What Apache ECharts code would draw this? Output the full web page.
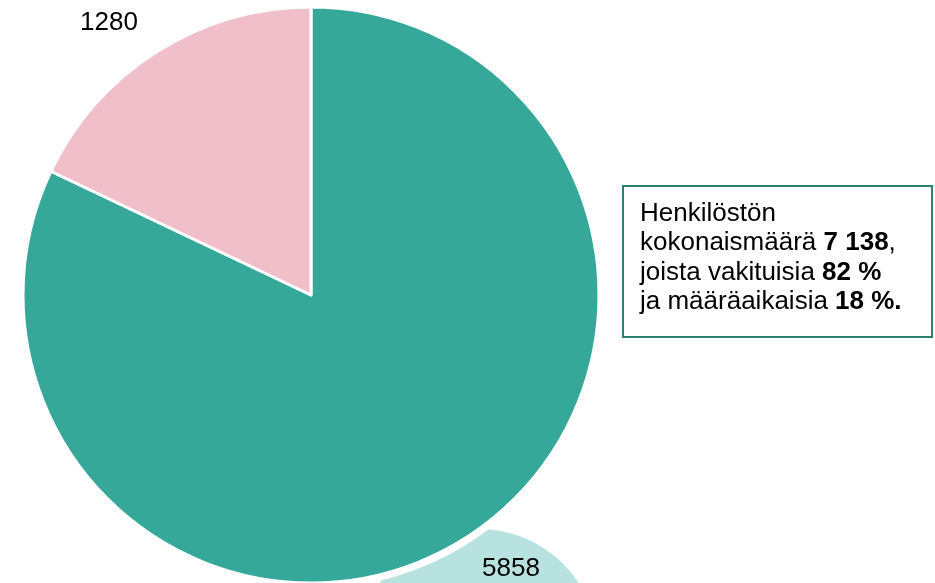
<!DOCTYPE html>
<html><head><meta charset="utf-8">
<script src="https://cdn.jsdelivr.net/npm/echarts@6/dist/echarts.min.js"></script>
<style>html,body{margin:0;padding:0;background:#fff}#c{width:935px;height:583px}</style>
</head><body><div id="c"></div>
<script>
const categories = ['Vakituiset', 'Määräaikaiset'];
const values = [5858, 1280];
const colors = ['#36a899', '#f0bfca'];
const labelPos = [[511, 569], [109, 23]];
const boxLines = [
  'Henkilöstön',
  'kokonaismäärä {b|7 138},',
  'joista vakituisia {b|82 %}',
  'ja määräaikaisia {b|18 %.}'
];
const FONT = '"Liberation Sans", Arial, sans-serif';

const chart = echarts.init(document.getElementById('c'), null, {renderer: 'canvas'});
chart.setOption({
  animation: false,
  graphic: [
    {type: 'circle', shape: {cx: 479, cy: 648, r: 119}, style: {fill: '#b8e2df'}, z: -20},
    {type: 'circle', shape: {cx: 311, cy: 295, r: 294}, style: {fill: '#fff'}, z: -10},
    {type: 'rect', shape: {x: 623, y: 186, width: 309, height: 151},
     style: {fill: '#fff', stroke: '#2e7f70', lineWidth: 2}},
    {type: 'text', x: 640, y: 199,
     style: {text: boxLines.join('\n'), font: '26px ' + FONT,
       fill: '#000', lineHeight: 29.5,
       rich: {b: {fontWeight: 'bold', fontSize: 26, fontFamily: FONT, lineHeight: 29.5}}}}
  ],
  series: [{
    type: 'pie',
    center: [311, 295],
    radius: [0, 288],
    startAngle: 90,
    clockwise: true,
    z: 5,
    itemStyle: {borderColor: '#fff', borderWidth: 3},
    label: {show: true, position: 'outside', color: '#000', fontSize: 26,
      fontFamily: FONT, formatter: '{c}'},
    labelLine: {show: false},
    labelLayout: function (p) {
      return {x: labelPos[p.dataIndex][0], y: labelPos[p.dataIndex][1], align: 'center', verticalAlign: 'middle'};
    },
    emphasis: {disabled: true},
    data: categories.map((n, i) => ({name: n, value: values[i], itemStyle: {color: colors[i]}}))
  }]
});
</script></body></html>
